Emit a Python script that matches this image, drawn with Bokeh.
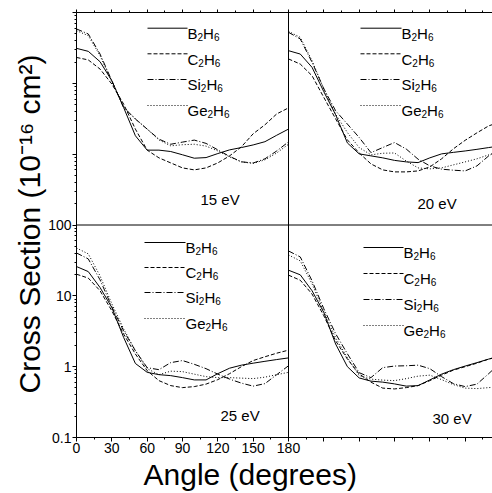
from bokeh.plotting import figure
from bokeh.models import (Range1d, LinearAxis, LogAxis, FixedTicker, CustomJSTickFormatter,
                          LogScale, LinearScale, Span, Title)
from bokeh.embed import file_html
from bokeh.resources import INLINE
from bokeh.core.properties import value

# ---------------- data ----------------
angles = [0, 10, 20, 30, 40, 50, 60, 70, 80, 90, 100, 110, 120, 130, 140, 150, 160, 170, 180]
species = ["B2H6", "C2H6", "Si2H6", "Ge2H6"]
energies = ["15 eV", "20 eV", "25 eV", "30 eV"]
x_tick_values = [0, 30, 60, 90, 120, 150, 180]
y_tick_values = [0.1, 1, 10, 100]
x_title = "Angle (degrees)"
y_title = "Cross Section (10\u207b\u00b9\u2076 cm\u00b2)"

b2h6_15 = [31.2, 28.3, 20.2, 10.9, 4.56, 1.82, 1.14, 1.14, 1.09, 0.98, 0.877, 0.895, 1.02, 1.15, 1.24, 1.35, 1.5, 1.85, 2.26]
c2h6_15 = [23.2, 21.4, 15.9, 9.78, 5.1, 2.26, 1.14, 0.887, 0.753, 0.64, 0.60, 0.64, 0.753, 0.946, 1.27, 1.94, 2.6, 3.7, 4.5]
si2h6_15 = [58.6, 49.8, 25.9, 10.9, 4.56, 3.13, 2.26, 1.63, 1.38, 1.48, 1.58, 1.42, 1.15, 0.93, 0.78, 0.75, 0.86, 1.11, 1.49]
ge2h6_15 = [55.5, 47.1, 24.6, 10.5, 4.67, 3.16, 2.26, 1.59, 1.31, 1.36, 1.38, 1.30, 1.11, 0.916, 0.778, 0.741, 0.83, 1.04, 1.38]

b2h6_20 = [28.9, 25.9, 16.8, 7.61, 3.6, 1.44, 1.01, 0.946, 0.887, 0.817, 0.778, 0.76, 0.887, 1.01, 1.06, 1.11, 1.17, 1.24, 1.31]
c2h6_20 = [22.1, 18.7, 12.8, 6.32, 3.16, 1.59, 1.04, 0.729, 0.60, 0.562, 0.562, 0.58, 0.661, 0.86, 1.19, 1.57, 2.0, 2.51, 2.86]
si2h6_20 = [52.5, 42.3, 19.8, 8.39, 4.1, 2.66, 1.72, 1.05, 1.24, 1.46, 1.18, 0.85, 0.683, 0.614, 0.594, 0.58, 0.683, 0.946, 1.19]
ge2h6_20 = [54.2, 44.6, 20.9, 8.3, 3.68, 2.02, 1.24, 0.978, 1.03, 1.04, 0.80, 0.64, 0.62, 0.64, 0.706, 0.778, 0.86, 0.978, 1.11]

b2h6_25 = [25.9, 22.0, 13.1, 6.84, 2.59, 1.11, 0.832, 0.771, 0.747, 0.70, 0.65, 0.65, 0.797, 0.952, 1.05, 1.12, 1.19, 1.26, 1.33]
c2h6_25 = [20.2, 17.8, 11.8, 6.15, 2.89, 1.51, 0.878, 0.635, 0.54, 0.506, 0.523, 0.567, 0.656, 0.797, 1.0, 1.22, 1.38, 1.55, 1.71]
si2h6_25 = [40.3, 33.2, 16.8, 7.0, 3.21, 1.68, 0.968, 0.907, 1.14, 1.22, 1.08, 0.937, 0.784, 0.667, 0.586, 0.531, 0.576, 0.771, 1.03]
ge2h6_25 = [47.4, 39.1, 19.1, 7.72, 3.43, 1.68, 0.937, 0.771, 0.864, 0.851, 0.784, 0.723, 0.70, 0.70, 0.689, 0.678, 0.711, 0.771, 0.832]

b2h6_30 = [23.0, 19.8, 11.8, 5.82, 2.09, 1.0, 0.693, 0.625, 0.605, 0.571, 0.531, 0.54, 0.65, 0.784, 0.907, 1.02, 1.14, 1.28, 1.41]
c2h6_30 = [19.6, 16.6, 10.6, 5.23, 2.32, 1.28, 0.789, 0.605, 0.498, 0.485, 0.506, 0.54, 0.635, 0.759, 0.893, 1.0, 1.12, 1.28, 1.41]
si2h6_30 = [43.0, 35.4, 16.3, 6.56, 2.92, 1.52, 0.823, 0.70, 0.968, 1.02, 1.03, 1.05, 0.937, 0.723, 0.576, 0.523, 0.567, 0.797, 1.14]
ge2h6_30 = [37.8, 31.1, 14.8, 5.96, 2.56, 1.34, 0.747, 0.667, 0.646, 0.635, 0.678, 0.735, 0.759, 0.656, 0.558, 0.498, 0.49, 0.506, 0.523]

series = {
    "15 eV": [b2h6_15, c2h6_15, si2h6_15, ge2h6_15],
    "20 eV": [b2h6_20, c2h6_20, si2h6_20, ge2h6_20],
    "25 eV": [b2h6_25, c2h6_25, si2h6_25, ge2h6_25],
    "30 eV": [b2h6_30, c2h6_30, si2h6_30, ge2h6_30],
}

# ---------------- layout (page pixels; the page has no margin) ----------------
FONT = "Liberation Sans"
DASHES = ["solid", "4 2", "6 2 1 2", "1 2"]
W, H = 492, 493
FX0, FXM, FX1 = 76, 288, 492       # frame left, panel split, frame right
FY0, FYM, FY1 = 12, 224.5, 437     # frame top, panel split, frame bottom

deg_per_px = 180.0 / (FXM - FX0)
dec_per_px = 3.0 / (FY1 - FYM)

p = figure(width=W, height=H,
           x_range=Range1d(0, (FX1 - FX0) * deg_per_px),
           y_range=Range1d(0.1, 0.1 * 10 ** ((FY1 - FY0) * dec_per_px)),
           y_axis_type="log", x_axis_location=None, y_axis_location=None,
           output_backend="svg", toolbar_location=None,
           min_border_left=FX0, min_border_right=W - FX1,
           min_border_top=FY0, min_border_bottom=H - FY1)
p.outline_line_color = None
p.grid.visible = False
p.extra_x_ranges = {"right": Range1d(-(FXM - FX0) * deg_per_px, (FX1 - FXM) * deg_per_px),
                    "px": Range1d(FX0, FX1)}
p.extra_y_ranges = {"top": Range1d(100 * 10 ** (-(FY1 - FY0) * dec_per_px), 100),
                    "py": Range1d(FY1, FY0)}
p.extra_x_scales = {"right": LinearScale(), "px": LinearScale()}
p.extra_y_scales = {"top": LogScale(), "py": LinearScale()}

panel_ranges = {"15 eV": ("default", "top"), "20 eV": ("right", "top"),
                "25 eV": ("default", "default"), "30 eV": ("right", "default")}

for e in energies:
    xr, yr = panel_ranges[e]
    for vals, dash in zip(series[e], DASHES):
        p.line(angles, vals, line_color="black", line_width=1, line_dash=dash,
               x_range_name=xr, y_range_name=yr)

# ---- axes (one set of ticks per side, shared by both panels on that side) ----
x_span = 180.0
x_max = (FX1 - FX0) * deg_per_px
xt_major = x_tick_values + [x_span + t for t in x_tick_values[1:] if x_span + t <= x_max]
xt_minor = [t + 15 for t in x_tick_values[:-1]] + [x_span + t + 15 for t in x_tick_values[:-1]
                                                    if x_span + t + 15 <= x_max]
yt_major = y_tick_values + [v * 1000 for v in y_tick_values[1:]]
yt_minor = [k * 10.0 ** e for e in range(-1, 5) for k in range(2, 10)]

def style_axis(ax, major_out, minor_out):
    ax.axis_line_color = "black"
    ax.axis_line_width = 1
    ax.major_tick_in = 0
    ax.minor_tick_in = 0
    ax.major_tick_out = major_out
    ax.minor_tick_out = minor_out
    ax.major_tick_line_color = "black"
    ax.minor_tick_line_color = "black"
    ax.major_label_text_font = FONT
    ax.major_label_text_font_size = "14px"
    ax.major_label_text_color = "black"

left = LogAxis(ticker=FixedTicker(ticks=yt_major, minor_ticks=yt_minor),
               formatter=CustomJSTickFormatter(code="return tick <= 100.5 ? tick.toString() : '';"))
style_axis(left, 4, 2)
left.major_label_standoff = 1
p.add_layout(left, "left")

below = LinearAxis(ticker=FixedTicker(ticks=xt_major, minor_ticks=xt_minor),
                   formatter=CustomJSTickFormatter(code="return tick <= 180.5 ? tick.toString() : '';"))
style_axis(below, 4, 2)
below.major_label_standoff = 1
p.add_layout(below, "below")

above = LinearAxis(ticker=FixedTicker(ticks=xt_major, minor_ticks=xt_minor),
                   formatter=CustomJSTickFormatter(code="return '';"))
style_axis(above, 3, 2)
above.major_label_text_font_size = "0px"
above.major_label_standoff = 0
p.add_layout(above, "above")

# panel separators
p.add_layout(Span(location=x_span, dimension="height", line_color="black", line_width=1))
p.add_layout(Span(location=100, dimension="width", line_color="black", line_width=1))

# ---- axis titles ----
p.add_layout(Title(text=x_title, align="left", offset=143 - FX0, standoff=0,
                   text_font=FONT, text_font_size="30px", text_font_style="normal",
                   text_color="black"), "below")
p.add_layout(Title(text=y_title, align="left", offset=FY1 - 393, standoff=0,
                   text_font=FONT, text_font_size="30px", text_font_style="normal",
                   text_color="black"), "left")

# ---- legends (page pixel coordinates) ----
legend_x = {"15 eV": (147, 187), "20 eV": (360, 401), "25 eV": (144, 185), "30 eV": (363, 403)}
legend_rows = {"15 eV": [27.7, 53.3, 79, 105], "20 eV": [27.7, 53.3, 79, 105],
               "25 eV": [242, 267, 292, 318], "30 eV": [247, 273, 299, 325]}
prefix = {"B2H6": "B", "C2H6": "C", "Si2H6": "Si", "Ge2H6": "Ge"}
em = {"B": 0.667, "C": 0.722, "Si": 0.889, "Ge": 1.334}
FS, SS = 15.0, 10.0

mx, my, mt = [], [], []
sx, sy, st = [], [], []
for e in energies:
    x0, x1 = legend_x[e]
    for k, (sp, dash) in enumerate(zip(species, DASHES)):
        yl = legend_rows[e][k]
        p.segment(x0=[x0], y0=[yl], x1=[x1], y1=[yl], line_color="black", line_width=1,
                  line_dash=dash, x_range_name="px", y_range_name="py")
        base = yl + 5.4
        pre = prefix[sp]
        xa = x1
        mx.append(xa); my.append(base); mt.append(pre)
        xa += em[pre] * FS
        sx.append(xa); sy.append(base + 3.5); st.append("2")
        xa += 0.556 * SS
        mx.append(xa); my.append(base); mt.append("H")
        xa += 0.722 * FS
        sx.append(xa); sy.append(base + 3.5); st.append("6")

p.text(x=mx, y=my, text=mt, text_font=value(FONT), text_font_size="15px",
       text_align="left", text_baseline="alphabetic", text_color="black",
       x_range_name="px", y_range_name="py")
p.text(x=sx, y=sy, text=st, text_font=value(FONT), text_font_size="10px",
       text_align="left", text_baseline="alphabetic", text_color="black",
       x_range_name="px", y_range_name="py")

p.text(x=[200, 417, 220, 432], y=[199.4, 203.4, 415.4, 418.4], text=energies,
       text_font=value(FONT), text_font_size="15px", text_align="left",
       text_baseline="alphabetic", text_color="black", x_range_name="px", y_range_name="py")

open("out.html", "w").write(file_html(p, INLINE))
